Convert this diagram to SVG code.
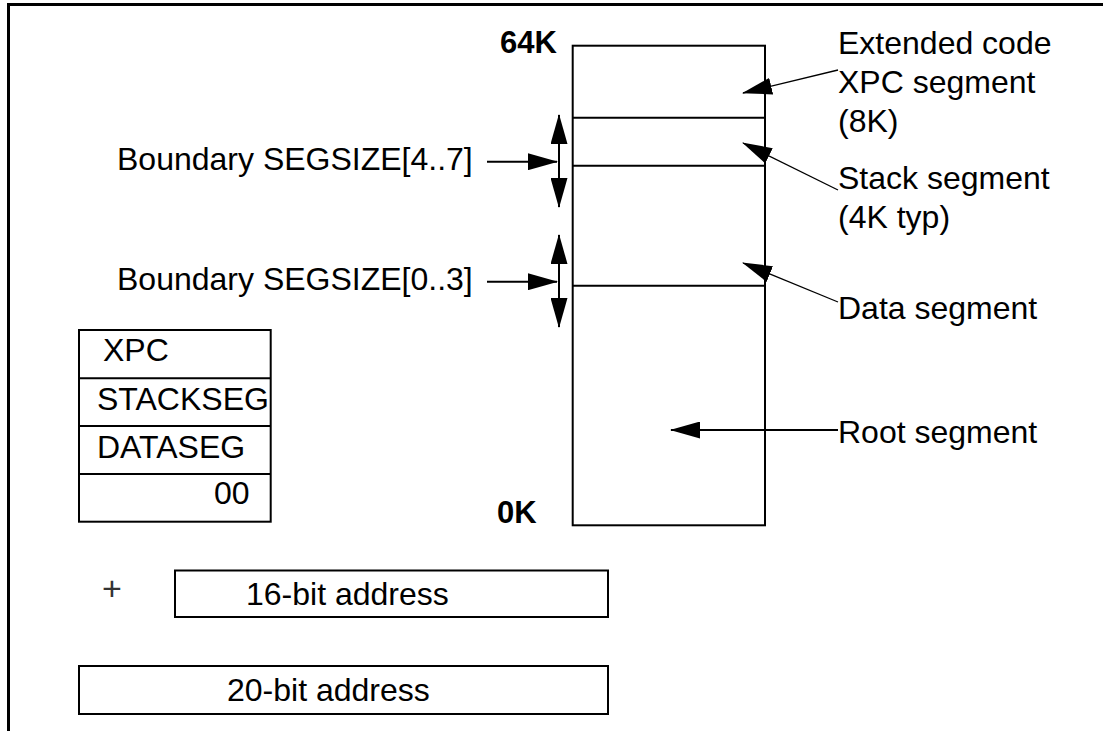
<svg xmlns="http://www.w3.org/2000/svg" width="1103" height="731" viewBox="0 0 1103 731">
<style>
.t{font-family:"Liberation Sans",Arial,sans-serif;font-size:32px;fill:#000}
.b{font-family:"Liberation Sans",Arial,sans-serif;font-size:31px;font-weight:bold;fill:#000}
.plus{font-family:"Liberation Sans",Arial,sans-serif;font-size:34px;fill:#333}
.box{fill:none;stroke:#000;stroke-width:2}
.ln{fill:none;stroke:#000;stroke-width:2}
.thin{fill:none;stroke:#000;stroke-width:1.3}
</style>
<defs>
<marker id="ah" markerUnits="userSpaceOnUse" markerWidth="30" markerHeight="17" refX="29" refY="8.5" orient="auto-start-reverse" viewBox="0 0 30 17">
<path d="M0,0 L30,8.5 L0,17 z" fill="#000"/>
</marker>
</defs>
<rect width="1103" height="731" fill="#fff"/>
<g id="frame">
<path d="M8.5,731 V4.5 H1103" fill="none" stroke="#000" stroke-width="3"/>
</g>
<g id="memory">
<rect class="box" x="572.7" y="45.7" width="192.3" height="479.6"/>
<line class="box" x1="572.7" y1="117.7" x2="765" y2="117.7"/>
<line class="box" x1="572.7" y1="165.7" x2="765" y2="165.7"/>
<line class="box" x1="572.7" y1="285.7" x2="765" y2="285.7"/>
<text class="b" x="500" y="53">64K</text>
<text class="b" x="497" y="523">0K</text>
</g>
<g id="labels-right">
<text class="t" x="838" y="54">Extended code</text>
<text class="t" x="838" y="93">XPC segment</text>
<text class="t" x="838" y="132">(8K)</text>
<text class="t" x="838" y="189">Stack segment</text>
<text class="t" x="838" y="228">(4K typ)</text>
<text class="t" x="838" y="319">Data segment</text>
<text class="t" x="838" y="443">Root segment</text>
</g>
<g id="labels-left">
<text class="t" x="117" y="170">Boundary SEGSIZE[4..7]</text>
<text class="t" x="117" y="290">Boundary SEGSIZE[0..3]</text>
</g>
<g id="registers">
<rect class="box" x="79" y="330" width="191.7" height="191.7"/>
<line class="box" x1="79" y1="378.3" x2="270.7" y2="378.3"/>
<line class="box" x1="79" y1="426" x2="270.7" y2="426"/>
<line class="box" x1="79" y1="474" x2="270.7" y2="474"/>
<text class="t" x="103" y="361">XPC</text>
<text class="t" x="97" y="410">STACKSEG</text>
<text class="t" x="97" y="458">DATASEG</text>
<text class="t" x="214" y="504">00</text>
</g>
<g id="addr16">
<text class="plus" x="102" y="600">+</text>
<rect class="box" x="175" y="570.5" width="433" height="46.5"/>
<text class="t" x="246" y="605">16-bit address</text>
</g>
<g id="addr20">
<rect class="box" x="79" y="666" width="529" height="48"/>
<text class="t" x="227" y="701">20-bit address</text>
</g>
<g id="connectors">
<line class="ln" x1="559" y1="115" x2="559" y2="207" marker-start="url(#ah)" marker-end="url(#ah)"/>
<line class="ln" x1="559" y1="235" x2="559" y2="327" marker-start="url(#ah)" marker-end="url(#ah)"/>
<line class="ln" x1="487" y1="161.7" x2="557" y2="161.7" marker-end="url(#ah)"/>
<line class="ln" x1="487" y1="281.7" x2="557" y2="281.7" marker-end="url(#ah)"/>
<line class="thin" x1="838" y1="70" x2="743" y2="93" marker-end="url(#ah)"/>
<line class="thin" x1="838" y1="190" x2="743" y2="143" marker-end="url(#ah)"/>
<line class="thin" x1="838" y1="302" x2="743" y2="263" marker-end="url(#ah)"/>
<line class="ln" x1="838" y1="430" x2="671" y2="430" marker-end="url(#ah)"/>
</g>
</svg>
